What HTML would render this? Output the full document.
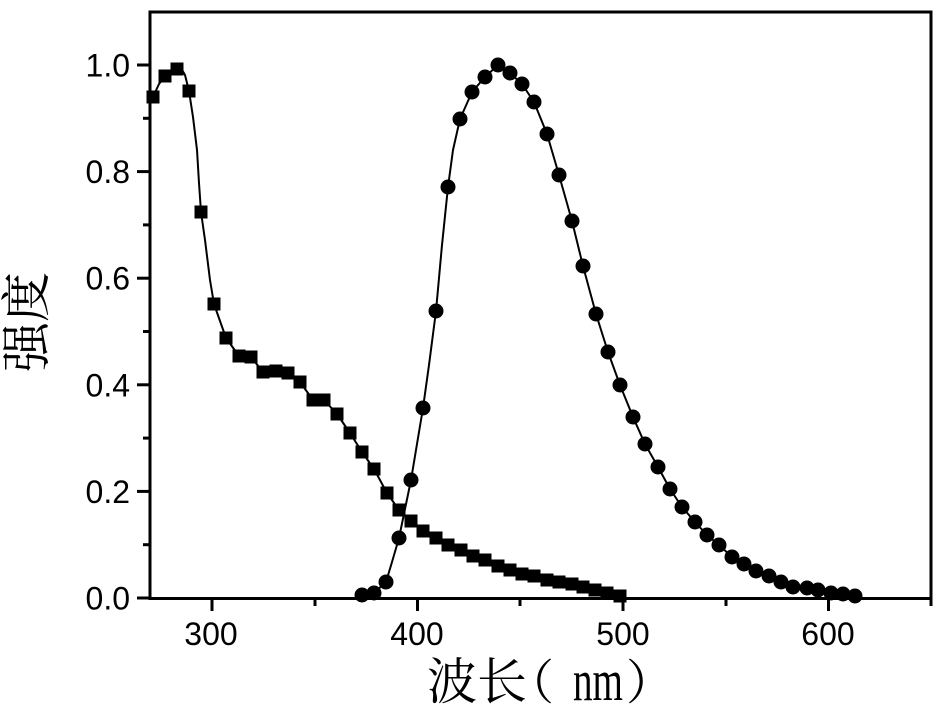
<!DOCTYPE html>
<html><head><meta charset="utf-8"><style>
html,body{margin:0;padding:0;background:#fff;}
svg{display:block;}
</style></head><body>
<svg width="941" height="711" viewBox="0 0 941 711" xmlns="http://www.w3.org/2000/svg">
<rect width="941" height="711" fill="#fff"/>
<rect x="150" y="12" width="781" height="586.5" fill="none" stroke="#000" stroke-width="3"/>
<g stroke="#000" stroke-width="3">
<line x1="137" y1="598" x2="150" y2="598"/>
<line x1="137" y1="491.4" x2="150" y2="491.4"/>
<line x1="137" y1="384.8" x2="150" y2="384.8"/>
<line x1="137" y1="278.2" x2="150" y2="278.2"/>
<line x1="137" y1="171.6" x2="150" y2="171.6"/>
<line x1="137" y1="65" x2="150" y2="65"/>
<line x1="143" y1="544.7" x2="150" y2="544.7"/>
<line x1="143" y1="438.1" x2="150" y2="438.1"/>
<line x1="143" y1="331.5" x2="150" y2="331.5"/>
<line x1="143" y1="224.9" x2="150" y2="224.9"/>
<line x1="143" y1="118.3" x2="150" y2="118.3"/>
<line x1="212" y1="598" x2="212" y2="611"/>
<line x1="417.5" y1="598" x2="417.5" y2="611"/>
<line x1="623" y1="598" x2="623" y2="611"/>
<line x1="828.5" y1="598" x2="828.5" y2="611"/>
<line x1="315" y1="598" x2="315" y2="606"/>
<line x1="520" y1="598" x2="520" y2="606"/>
<line x1="726" y1="598" x2="726" y2="606"/>
<line x1="931" y1="598" x2="931" y2="606"/>
</g>
<g font-family="'Liberation Sans', Arial, sans-serif" font-size="32" fill="#000">
<g text-anchor="end">
<text x="130" y="609.5">0.0</text>
<text x="130" y="502.9">0.2</text>
<text x="130" y="396.3">0.4</text>
<text x="130" y="289.7">0.6</text>
<text x="130" y="183.1">0.8</text>
<text x="130" y="76.5">1.0</text>
</g>
<g text-anchor="middle">
<text x="211" y="645">300</text>
<text x="417" y="645">400</text>
<text x="623" y="645">500</text>
<text x="828" y="645">600</text>
</g>
</g>
<g transform="translate(27,322) rotate(-90)">
<text x="0" y="17" text-anchor="middle" font-family="'Noto Serif CJK SC', 'Liberation Serif', serif" font-size="50" fill="#000">强度</text>
</g>
<g font-family="'Liberation Serif', 'Noto Serif CJK SC', serif" fill="#000">
<text x="427" y="699" font-size="50" font-family="'Noto Serif CJK SC', serif">波</text>
<text x="477" y="699" font-size="50" font-family="'Noto Serif CJK SC', serif">长</text>
<text x="506" y="699" font-size="48" font-family="'Noto Serif CJK SC', serif">（</text>
<text x="573" y="700" font-size="58" textLength="50" lengthAdjust="spacingAndGlyphs">nm</text>
<text x="626" y="699" font-size="48" font-family="'Noto Serif CJK SC', serif">）</text>
</g>
<polyline fill="none" stroke="#000" stroke-width="2" stroke-linejoin="round" points="151,101 153,97 159,84 165,76 171,71 177,69 181,68 185,75 189,91 193,117 197,150 199,183 201,212 205,240 210,280 214,304 226,338 239,356 251,357 263,372 276,371 288,373 300,382 313,400 324,400 337,414 350,433 362,452 374,469 387,493 399,510 411,521 423,531 436,538 448,545 461,550 473,556 485,560 498,566 510,570 522,574 534,576 547,580 559,582 572,584 583,587 595,590 607,593 620,596"/>
<polyline fill="none" stroke="#000" stroke-width="2" stroke-linejoin="round" points="362,595 374,593 386,582 392,562 399,538 411,480 423,408 429,365 436,311 442,245 448,187 453,150 460,119 472,92 485,77 498,65 510,73 522,84 534,102 547,134 559,175 572,221 583,266 596,314 608,352 620,385 633,417 645,444 658,467 670,489 682,507 695,522 707,535 719,545 732,557 744,564 756,571 769,576 781,582 793,587 807,588 818,590 831,593 843,594 855,596"/>
<g fill="#000">
<rect x="146.5" y="90.5" width="13" height="13"/>
<rect x="158.5" y="69.5" width="13" height="13"/>
<rect x="170.5" y="62.5" width="13" height="13"/>
<rect x="182.5" y="84.5" width="13" height="13"/>
<rect x="194.5" y="205.5" width="13" height="13"/>
<rect x="207.5" y="297.5" width="13" height="13"/>
<rect x="219.5" y="331.5" width="13" height="13"/>
<rect x="232.5" y="349.5" width="13" height="13"/>
<rect x="244.5" y="350.5" width="13" height="13"/>
<rect x="256.5" y="365.5" width="13" height="13"/>
<rect x="269.5" y="364.5" width="13" height="13"/>
<rect x="281.5" y="366.5" width="13" height="13"/>
<rect x="293.5" y="375.5" width="13" height="13"/>
<rect x="306.5" y="393.5" width="13" height="13"/>
<rect x="317.5" y="393.5" width="13" height="13"/>
<rect x="330.5" y="407.5" width="13" height="13"/>
<rect x="343.5" y="426.5" width="13" height="13"/>
<rect x="355.5" y="445.5" width="13" height="13"/>
<rect x="367.5" y="462.5" width="13" height="13"/>
<rect x="380.5" y="486.5" width="13" height="13"/>
<rect x="392.5" y="503.5" width="13" height="13"/>
<rect x="404.5" y="514.5" width="13" height="13"/>
<rect x="416.5" y="524.5" width="13" height="13"/>
<rect x="429.5" y="531.5" width="13" height="13"/>
<rect x="441.5" y="538.5" width="13" height="13"/>
<rect x="454.5" y="543.5" width="13" height="13"/>
<rect x="466.5" y="549.5" width="13" height="13"/>
<rect x="478.5" y="553.5" width="13" height="13"/>
<rect x="491.5" y="559.5" width="13" height="13"/>
<rect x="503.5" y="563.5" width="13" height="13"/>
<rect x="515.5" y="567.5" width="13" height="13"/>
<rect x="527.5" y="569.5" width="13" height="13"/>
<rect x="540.5" y="573.5" width="13" height="13"/>
<rect x="552.5" y="575.5" width="13" height="13"/>
<rect x="565.5" y="577.5" width="13" height="13"/>
<rect x="576.5" y="580.5" width="13" height="13"/>
<rect x="588.5" y="583.5" width="13" height="13"/>
<rect x="600.5" y="586.5" width="13" height="13"/>
<rect x="613.5" y="589.5" width="13" height="13"/>
</g>
<g fill="#000">
<circle cx="362" cy="595" r="7.5"/>
<circle cx="374" cy="593" r="7.5"/>
<circle cx="386" cy="582" r="7.5"/>
<circle cx="399" cy="538" r="7.5"/>
<circle cx="411" cy="480" r="7.5"/>
<circle cx="423" cy="408" r="7.5"/>
<circle cx="436" cy="311" r="7.5"/>
<circle cx="448" cy="187" r="7.5"/>
<circle cx="460" cy="119" r="7.5"/>
<circle cx="472" cy="92" r="7.5"/>
<circle cx="485" cy="77" r="7.5"/>
<circle cx="498" cy="65" r="7.5"/>
<circle cx="510" cy="73" r="7.5"/>
<circle cx="522" cy="84" r="7.5"/>
<circle cx="534" cy="102" r="7.5"/>
<circle cx="547" cy="134" r="7.5"/>
<circle cx="559" cy="175" r="7.5"/>
<circle cx="572" cy="221" r="7.5"/>
<circle cx="583" cy="266" r="7.5"/>
<circle cx="596" cy="314" r="7.5"/>
<circle cx="608" cy="352" r="7.5"/>
<circle cx="620" cy="385" r="7.5"/>
<circle cx="633" cy="417" r="7.5"/>
<circle cx="645" cy="444" r="7.5"/>
<circle cx="658" cy="467" r="7.5"/>
<circle cx="670" cy="489" r="7.5"/>
<circle cx="682" cy="507" r="7.5"/>
<circle cx="695" cy="522" r="7.5"/>
<circle cx="707" cy="535" r="7.5"/>
<circle cx="719" cy="545" r="7.5"/>
<circle cx="732" cy="557" r="7.5"/>
<circle cx="744" cy="564" r="7.5"/>
<circle cx="756" cy="571" r="7.5"/>
<circle cx="769" cy="576" r="7.5"/>
<circle cx="781" cy="582" r="7.5"/>
<circle cx="793" cy="587" r="7.5"/>
<circle cx="807" cy="588" r="7.5"/>
<circle cx="818" cy="590" r="7.5"/>
<circle cx="831" cy="593" r="7.5"/>
<circle cx="843" cy="594" r="7.5"/>
<circle cx="855" cy="596" r="7.5"/>
</g>
</svg>
</body></html>
